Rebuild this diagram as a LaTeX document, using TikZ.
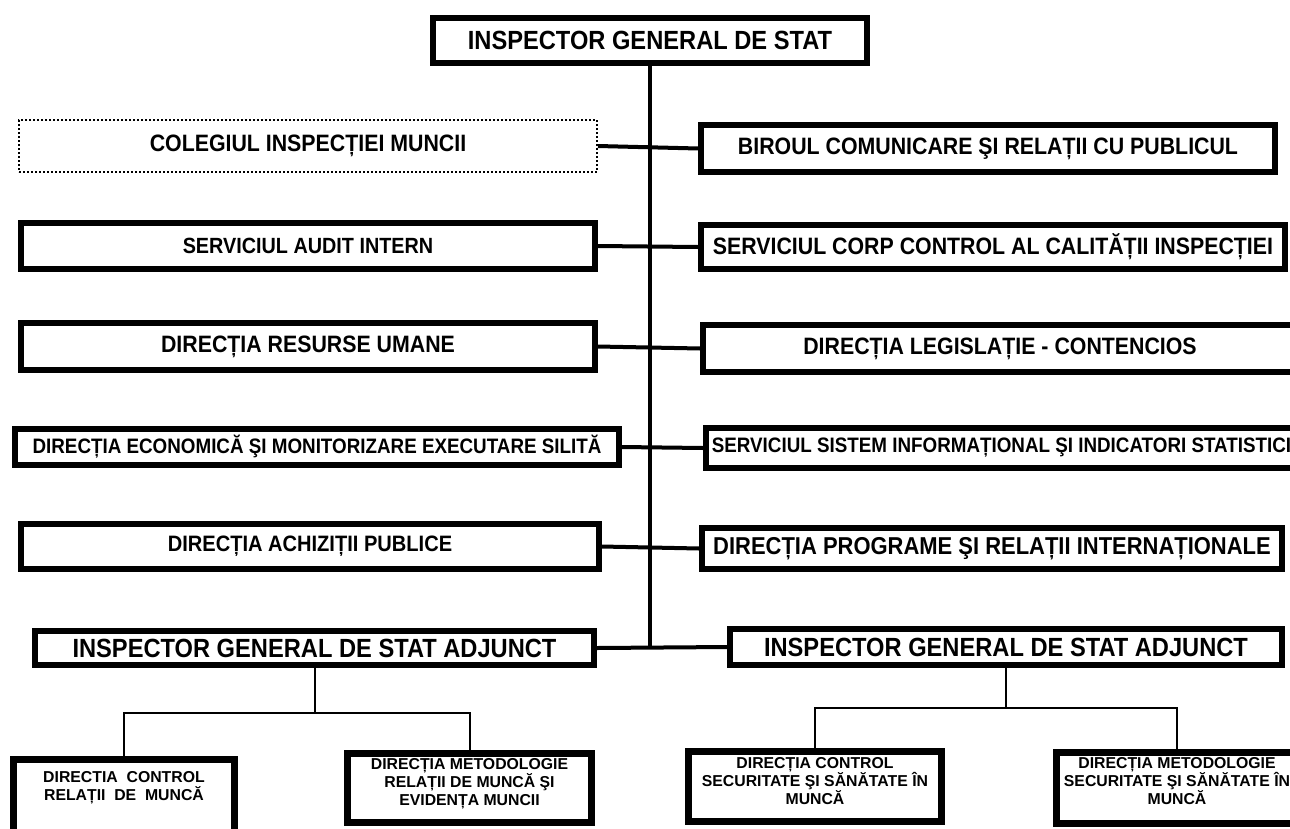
\documentclass[tikz,border=0pt]{standalone}
\usepackage{fontspec}
\setmainfont{Liberation Sans}
\newfontfamily\orgfont[FakeStretch=0.9]{Liberation Sans}

\begin{document}
\begin{tikzpicture}[
    x=1pt, y=-1pt,
    headbox/.style={draw, line width=5.5pt, inner sep=0pt, font=\orgfont\bfseries\fontsize{26.3}{30}\selectfont},
    deptbox/.style={draw, line width=5.5pt, inner sep=0pt, font=\orgfont\bfseries\fontsize{23.7}{28}\selectfont},
    widebox/.style={deptbox, font=\orgfont\bfseries\fontsize{20.9}{24}\selectfont},
    councilbox/.style={deptbox, line width=2pt, dash pattern=on 2pt off 2pt},
    unitbox/.style={draw, line width=7pt, inner sep=0pt},
    unittext/.style={anchor=north, inner sep=0pt, align=center, font=\bfseries\fontsize{15.8}{18}\selectfont},
    trunk/.style={line width=4pt},
    sublink/.style={line width=2pt},
]

\clip (0,0) rectangle (1290,828);

% === Head ===
\node[headbox, minimum width=434pt, minimum height=45pt] (igs) at (650,40.5) {INSPECTOR GENERAL DE STAT};

% === Left column ===
\node[councilbox, minimum width=578pt, minimum height=52pt] (colegiu) at (308,146) {COLEGIUL INSPECȚIEI MUNCII};
\node[deptbox, minimum width=574pt, minimum height=46pt, font=\orgfont\bfseries\fontsize{22}{26}\selectfont] (audit) at (308,246) {SERVICIUL AUDIT INTERN};
\node[deptbox, minimum width=574pt, minimum height=47pt] (hr) at (308,346.5) {DIRECȚIA RESURSE UMANE};
\node[widebox, minimum width=604pt, minimum height=36pt] (econ) at (317,447) {DIRECȚIA ECONOMICĂ ŞI MONITORIZARE EXECUTARE SILITĂ};
\node[deptbox, minimum width=578pt, minimum height=45pt, font=\orgfont\bfseries\fontsize{22.3}{26}\selectfont] (achiz) at (310,546.5) {DIRECȚIA ACHIZIȚII PUBLICE};
\node[headbox, minimum width=559pt, minimum height=34pt] (adjl) at (314.5,648) {INSPECTOR GENERAL DE STAT ADJUNCT};

% === Right column ===
\node[deptbox, minimum width=574pt, minimum height=47pt] (birou) at (988,148.5) {BIROUL COMUNICARE ŞI RELAȚII CU PUBLICUL};
\node[deptbox, minimum width=584pt, minimum height=44pt] (corp) at (993,247) {SERVICIUL CORP CONTROL AL CALITĂȚII INSPECȚIEI};
\node[deptbox, minimum width=594pt, minimum height=47pt] (legis) at (1000,348.5) {DIRECȚIA LEGISLAȚIE - CONTENCIOS};
\node[widebox, minimum width=591pt, minimum height=40pt] (sistem) at (1001.5,448) {SERVICIUL SISTEM INFORMAȚIONAL ŞI INDICATORI STATISTICI};
\node[deptbox, minimum width=580pt, minimum height=41pt, font=\orgfont\bfseries\fontsize{24.4}{28}\selectfont] (progr) at (992,548.5) {DIRECȚIA PROGRAME ŞI RELAȚII INTERNAȚIONALE};
\node[headbox, minimum width=552pt, minimum height=36pt] (adjr) at (1006,647) {INSPECTOR GENERAL DE STAT ADJUNCT};

% Trunk and rows
\draw[trunk] (igs.south) -- (igs.south |- adjl.east);
\draw[trunk] (colegiu.east) -- (birou.west);
\draw[trunk] (audit.east) -- (corp.west);
\draw[trunk] (hr.east) -- (legis.west);
\draw[trunk] (econ.east) -- (sistem.west);
\draw[trunk] (achiz.east) -- (progr.west);
\draw[trunk] (adjl.east) -- (adjr.west);

% === Units under the deputies ===
\node[unitbox, minimum width=221pt, minimum height=77pt,
    label={[unittext, yshift=-15pt]north:{DIRECTIA\ \ CONTROL\\RELAȚII\ \ DE\ \ MUNCĂ}}] (dcrm) at (124,798) {};
\node[unitbox, minimum width=244pt, minimum height=69pt,
    label={[unittext, yshift=-8pt]north:{DIRECȚIA METODOLOGIE\\RELAȚII DE MUNCĂ ŞI\\EVIDENȚA MUNCII}}] (dmrm) at (469.5,788) {};
\node[unitbox, minimum width=253pt, minimum height=70pt,
    label={[unittext, yshift=-9pt]north:{DIRECȚIA CONTROL\\SECURITATE ŞI SĂNĂTATE ÎN\\MUNCĂ}}] (dcss) at (815,786.5) {};
\node[unitbox, minimum width=241pt, minimum height=71pt,
    label={[unittext, yshift=-8pt]north:{DIRECȚIA METODOLOGIE\\SECURITATE ŞI SĂNĂTATE ÎN\\MUNCĂ}}] (dmss) at (1177,788) {};

\draw[sublink] (adjl.south) -- ++(0,45) coordinate (lsplit);
\draw[sublink] (dcrm.north) |- (lsplit) -| (dmrm.north);
\draw[sublink] (adjr.south) -- ++(0,40) coordinate (rsplit);
\draw[sublink] (dcss.north) |- (rsplit) -| (dmss.north);

\end{tikzpicture}
\end{document}
